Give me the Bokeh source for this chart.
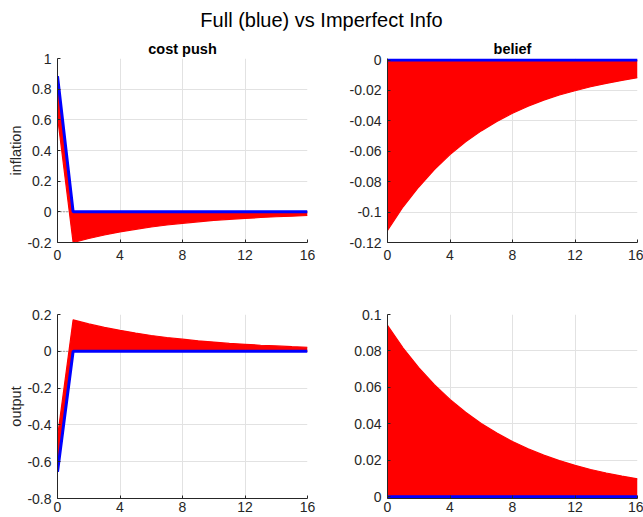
from bokeh.plotting import figure
from bokeh.layouts import column, gridplot
from bokeh.models import Div, FixedTicker, Range1d
from bokeh.embed import file_html
from bokeh.resources import INLINE

# quarters after the shock
periods = [0, 1, 2, 3, 4, 5, 6, 7, 8, 9, 10, 11, 12, 13, 14, 15, 16]

# imperfect-information responses: band spanned by the family of red paths
infl_cost_lo = [0.62, -0.200, -0.174, -0.151, -0.131, -0.114, -0.099, -0.086, -0.075,
                -0.065, -0.056, -0.049, -0.043, -0.037, -0.032, -0.028, -0.024]
infl_cost_hi = [0.885, 0.0, 0.0, 0.0, 0.0, 0.0, 0.0, 0.0, 0.0,
                0.0, 0.0, 0.0, 0.0, 0.0, 0.0, 0.0, 0.0]
infl_belief_lo = [-0.112, -0.0965, -0.0835, -0.0720, -0.0622, -0.0538, -0.0466, -0.0404, -0.0350,
                  -0.0304, -0.0264, -0.0230, -0.0202, -0.0176, -0.0154, -0.0134, -0.0116]
infl_belief_hi = [0.0, 0.0, 0.0, 0.0, 0.0, 0.0, 0.0, 0.0, 0.0,
                  0.0, 0.0, 0.0, 0.0, 0.0, 0.0, 0.0, 0.0]
out_cost_lo = [-0.655, 0.0, 0.0, 0.0, 0.0, 0.0, 0.0, 0.0, 0.0,
               0.0, 0.0, 0.0, 0.0, 0.0, 0.0, 0.0, 0.0]
out_cost_hi = [-0.465, 0.171, 0.149, 0.130, 0.114, 0.099, 0.086, 0.075, 0.066,
               0.057, 0.050, 0.043, 0.038, 0.033, 0.029, 0.025, 0.022]
out_belief_lo = [0.0, 0.0, 0.0, 0.0, 0.0, 0.0, 0.0, 0.0, 0.0,
                 0.0, 0.0, 0.0, 0.0, 0.0, 0.0, 0.0, 0.0]
out_belief_hi = [0.094, 0.0816, 0.0708, 0.0615, 0.0534, 0.0463, 0.0402, 0.0349, 0.0303,
                 0.0263, 0.0228, 0.0198, 0.0172, 0.0149, 0.0130, 0.0113, 0.0098]

# full-information responses
infl_cost_full = [0.885, 0.0, 0.0, 0.0, 0.0, 0.0, 0.0, 0.0, 0.0,
                  0.0, 0.0, 0.0, 0.0, 0.0, 0.0, 0.0, 0.0]
infl_belief_full = [0.0, 0.0, 0.0, 0.0, 0.0, 0.0, 0.0, 0.0, 0.0,
                    0.0, 0.0, 0.0, 0.0, 0.0, 0.0, 0.0, 0.0]
out_cost_full = [-0.655, 0.0, 0.0, 0.0, 0.0, 0.0, 0.0, 0.0, 0.0,
                 0.0, 0.0, 0.0, 0.0, 0.0, 0.0, 0.0, 0.0]
out_belief_full = [0.0, 0.0, 0.0, 0.0, 0.0, 0.0, 0.0, 0.0, 0.0,
                   0.0, 0.0, 0.0, 0.0, 0.0, 0.0, 0.0, 0.0]
zero_ref = [0.0, 0.0, 0.0, 0.0, 0.0, 0.0, 0.0, 0.0, 0.0,
            0.0, 0.0, 0.0, 0.0, 0.0, 0.0, 0.0, 0.0]

x_ticks = [0, 4, 8, 12, 16]
x_tick_labels = ["0", "4", "8", "12", "16"]

infl_cost_ticks = [-0.2, 0.0, 0.2, 0.4, 0.6, 0.8, 1.0]
infl_cost_labels = ["-0.2", "0", "0.2", "0.4", "0.6", "0.8", "1"]
infl_belief_ticks = [-0.12, -0.1, -0.08, -0.06, -0.04, -0.02, 0.0]
infl_belief_labels = ["-0.12", "-0.1", "-0.08", "-0.06", "-0.04", "-0.02", "0"]
out_cost_ticks = [-0.8, -0.6, -0.4, -0.2, 0.0, 0.2]
out_cost_labels = ["-0.8", "-0.6", "-0.4", "-0.2", "0", "0.2"]
out_belief_ticks = [0.0, 0.02, 0.04, 0.06, 0.08, 0.1]
out_belief_labels = ["0", "0.02", "0.04", "0.06", "0.08", "0.1"]

FONT = "Liberation Sans"
INK = "#262626"
RED = "#ff0000"
BLUE = "#0000ff"


def panel(width, height, borders, y_lim, y_ticks, y_labels, lo, hi, full,
          title=None, ylabel=None, zero_line=False, x_standoff=7):
    left, right, top, bottom = borders
    p = figure(width=width, height=height, output_backend="svg", toolbar_location=None,
               x_range=Range1d(0, 16), y_range=Range1d(*y_lim),
               min_border_left=left, min_border_right=right,
               min_border_top=top, min_border_bottom=bottom)
    p.outline_line_color = None
    p.background_fill_color = "white"
    p.border_fill_color = "white"

    if title:
        p.title.text = title
        p.title.align = "center"
        p.title.text_font = FONT
        p.title.text_font_size = "14.5px"
        p.title.text_font_style = "bold"
        p.title.text_color = "#000000"
        p.title.standoff = 3

    for ax, ticks, labels in ((p.xaxis[0], x_ticks, x_tick_labels),
                              (p.yaxis[0], y_ticks, y_labels)):
        ax.ticker = FixedTicker(ticks=ticks)
        ax.major_label_overrides = {t: s for t, s in zip(ticks, labels)}
        ax.axis_line_color = INK
        ax.axis_line_width = 1
        ax.major_tick_line_color = INK
        ax.major_tick_in = 3
        ax.major_tick_out = 0
        ax.minor_tick_line_color = None
        ax.major_label_text_font = FONT
        ax.major_label_text_font_size = "14px"
        ax.major_label_text_color = INK
    p.xaxis.major_label_standoff = x_standoff
    p.yaxis.major_label_standoff = 6

    if ylabel:
        p.yaxis.axis_label = ylabel
        p.yaxis.axis_label_text_font = FONT
        p.yaxis.axis_label_text_font_size = "14.5px"
        p.yaxis.axis_label_text_font_style = "normal"
        p.yaxis.axis_label_text_color = INK
        p.yaxis.axis_label_standoff = 0

    p.xgrid.grid_line_color = "#e2e2e2"
    p.ygrid.grid_line_color = "#e2e2e2"

    if zero_line:
        p.line(periods, zero_ref, line_color=INK, line_width=0.7, line_dash="1 2")

    p.varea(x=periods, y1=lo, y2=hi, fill_color=RED)
    p.line(periods, lo, line_color=RED, line_width=1.2)
    p.line(periods, hi, line_color=RED, line_width=1.2)
    p.line(periods, full, line_color=BLUE, line_width=3)
    return p


# the belief panels get a hair of room beyond zero so the blue line is not cut by the frame
tl = panel(320, 242, (57, 13, 28, 30), (-0.2, 1.0), infl_cost_ticks, infl_cost_labels,
           infl_cost_lo, infl_cost_hi, infl_cost_full,
           title="cost push", ylabel="inflation", zero_line=True)
tr = panel(323, 242, (67, 6, 28, 30), (-0.12, 0.001), infl_belief_ticks, infl_belief_labels,
           infl_belief_lo, infl_belief_hi, infl_belief_full, title="belief")
bl = panel(320, 245, (57, 13, 42, 19), (-0.8, 0.2), out_cost_ticks, out_cost_labels,
           out_cost_lo, out_cost_hi, out_cost_full, ylabel="output", zero_line=True,
           x_standoff=3)
br = panel(323, 245, (67, 6, 42, 19), (-0.001, 0.1), out_belief_ticks, out_belief_labels,
           out_belief_lo, out_belief_hi, out_belief_full, x_standoff=3)

heading = Div(
    text=('<div style="width:623px;padding-left:20px;text-align:center;'
          'font-family:\'Liberation Sans\';font-size:20px;color:#000;padding-top:6px;">'
          'Full (blue) vs Imperfect Info</div>'),
    width=643, height=30, margin=0)

grid = gridplot([[tl, tr], [bl, br]], toolbar_location=None)
layout = column(heading, grid)

open("out.html", "w").write(file_html(layout, INLINE))
